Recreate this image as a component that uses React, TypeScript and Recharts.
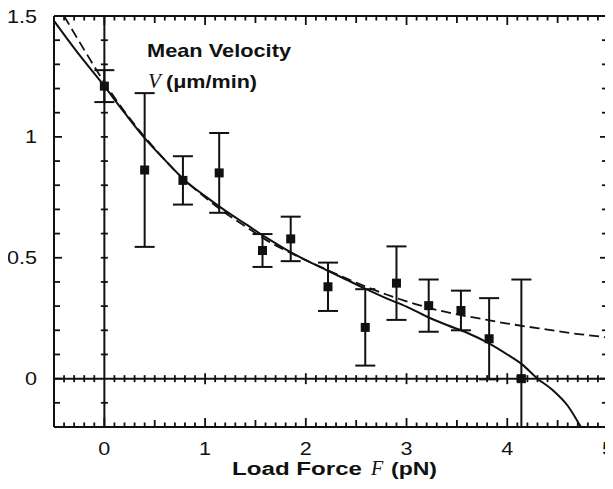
import React from "react";
import {
  ComposedChart,
  XAxis,
  YAxis,
  Line,
  Scatter,
  ErrorBar,
  ReferenceLine,
} from "recharts";

// ---- measured data ----
const forces = [0, 0.4, 0.78, 1.14, 1.57, 1.85, 2.22, 2.59, 2.9, 3.22, 3.54, 3.82, 4.14];
const velocities = [1.21, 0.863, 0.82, 0.851, 0.53, 0.578, 0.38, 0.212, 0.395, 0.302, 0.282, 0.165, 0.0];
const velocityErrors = [0.066, 0.318, 0.1, 0.165, 0.068, 0.092, 0.1, 0.158, 0.152, 0.108, 0.082, 0.168, 0.41];

const solidX = [-0.5, -0.25, 0, 0.2, 0.4, 0.6, 0.8, 1.0, 1.2, 1.4, 1.6, 1.8, 2.0, 2.2, 2.4, 2.6, 2.8, 3.0, 3.2, 3.4, 3.6, 3.8, 4.0, 4.15, 4.3, 4.45, 4.6, 4.73];
const solidY = [1.48, 1.34, 1.21, 1.1, 0.995, 0.905, 0.82, 0.755, 0.695, 0.64, 0.585, 0.535, 0.49, 0.45, 0.41, 0.37, 0.332, 0.298, 0.257, 0.222, 0.19, 0.15, 0.1, 0.058, 0.0, -0.047, -0.112, -0.2];

const dashedX = [-0.4, -0.2, 0, 0.2, 0.4, 0.6, 0.8, 1.0, 1.2, 1.4, 1.6, 1.8, 2.0, 2.2, 2.4, 2.6, 2.8, 3.0, 3.2, 3.4, 3.6, 3.8, 4.0, 4.2, 4.4, 4.6, 4.8, 5.0];
const dashedY = [1.5, 1.36, 1.225, 1.105, 1.0, 0.905, 0.82, 0.75, 0.685, 0.63, 0.575, 0.53, 0.49, 0.452, 0.415, 0.38, 0.348, 0.32, 0.295, 0.275, 0.258, 0.243, 0.228, 0.215, 0.203, 0.19, 0.18, 0.17];

const xTickLabels = [0, 1, 2, 3, 4, 5];
const yTickLabels = [0, 0.5, 1, 1.5];
const xDomain: [number, number] = [-0.5, 5];
const yDomain: [number, number] = [-0.2, 1.5];

// minor tick positions (every 0.1)
const xMinor = Array.from({ length: 54 }, (_, i) => +(-0.4 + i * 0.1).toFixed(1));
const yMinor = Array.from({ length: 16 }, (_, i) => +(-0.1 + i * 0.1).toFixed(1));

// error bars are clipped at the plot frame (lower bound never below the axis minimum)
const points = forces.map((x, i) => ({
  x,
  y: velocities[i],
  err: [Math.min(velocityErrors[i], velocities[i] - yDomain[0]), velocityErrors[i]],
}));
const solidData = solidX.map((x, i) => ({ x, y: solidY[i] }));
const dashedData = dashedX.map((x, i) => ({ x, y: dashedY[i] }));

const bottomTicks = xMinor.map((x) => ({ x, y: yDomain[0] }));
const topTicks = xMinor.map((x) => ({ x, y: yDomain[1] }));
const leftTicks = yMinor.map((y) => ({ x: xDomain[0], y }));
const rightTicks = yMinor.map((y) => ({ x: xDomain[1], y }));
const zeroRowTicks = xMinor.filter((x) => x !== 0).map((x) => ({ x, y: 0 }));
const zeroColTicks = yMinor.filter((y) => y !== 0).map((y) => ({ x: 0, y }));

const INK = "#111";
const SANS = "'Liberation Sans', Arial, Helvetica, sans-serif";
const SERIF = "'Liberation Serif', 'Times New Roman', serif";

const isInt = (v: number) => Math.abs(v - Math.round(v)) < 1e-6;
const isHalf = (v: number) => Math.abs(v * 2 - Math.round(v * 2)) < 1e-6;
const xLen = (v: number) => (isInt(v) ? 9 : isHalf(v) ? 7 : 4.5);
const yLen = (v: number) => (isHalf(v) ? 8 : 6);

// approximate stretched width of a numeric label
const labelWidth = (s: string) =>
  s.split("").reduce((w, c) => w + (c === "." ? 5 : 10), 0) * 1.2;

const XTick = (p: any) => {
  const s = String(p.payload.value);
  return (
    <text
      x={p.x}
      y={p.y + 28}
      textAnchor="middle"
      fontFamily={SANS}
      fontSize={18}
      fill={INK}
      textLength={labelWidth(s)}
      lengthAdjust="spacingAndGlyphs"
    >
      {s}
    </text>
  );
};

const YTick = (p: any) => {
  const s = String(p.payload.value);
  const w = labelWidth(s);
  return (
    <text
      x={p.x - 17 - w}
      y={p.y + 6.5}
      textAnchor="start"
      fontFamily={SANS}
      fontSize={18}
      fill={INK}
      textLength={w}
      lengthAdjust="spacingAndGlyphs"
    >
      {s}
    </text>
  );
};

const markerShape = (p: any) => (
  <rect x={p.cx - 4.5} y={p.cy - 4.5} width={9} height={9} fill={INK} />
);

export default function App() {
  return (
    <div style={{ position: "relative", width: 605, height: 481, background: "#fff" }}>
      <ComposedChart
        width={605}
        height={481}
        margin={{ top: 8, right: 5, left: 0, bottom: 0 }}
        data={points}
      >
        <XAxis
          type="number"
          dataKey="x"
          domain={xDomain}
          ticks={xTickLabels}
          interval={0}
          axisLine={{ stroke: INK, strokeWidth: 2 }}
          tickLine={false}
          tickSize={0}
          tickMargin={0}
          height={62}
          tick={<XTick />}
        />
        <YAxis
          type="number"
          dataKey="y"
          domain={yDomain}
          ticks={yTickLabels}
          interval={0}
          axisLine={{ stroke: INK, strokeWidth: 2 }}
          tickLine={false}
          tickSize={0}
          tickMargin={0}
          width={46}
          tick={<YTick />}
        />
        {/* plot frame: top and right edges */}
        <ReferenceLine x={xDomain[1]} stroke={INK} strokeWidth={2} ifOverflow="visible" />
        <ReferenceLine y={yDomain[1]} stroke={INK} strokeWidth={2} ifOverflow="visible" />
        {/* zero axes */}
        <ReferenceLine y={0} stroke={INK} strokeWidth={2} />
        <ReferenceLine x={0} stroke={INK} strokeWidth={2} />

        <Scatter
          data={bottomTicks}
          dataKey="y"
          isAnimationActive={false}
          shape={(p: any) => (
            <line x1={p.cx} x2={p.cx} y1={p.cy} y2={p.cy - xLen(p.payload.x)} stroke={INK} strokeWidth={1.8} />
          )}
        />
        <Scatter
          data={topTicks}
          dataKey="y"
          isAnimationActive={false}
          shape={(p: any) => (
            <line x1={p.cx} x2={p.cx} y1={p.cy} y2={p.cy + xLen(p.payload.x)} stroke={INK} strokeWidth={1.8} />
          )}
        />
        <Scatter
          data={leftTicks}
          dataKey="y"
          isAnimationActive={false}
          shape={(p: any) => (
            <line x1={p.cx} x2={p.cx + yLen(p.payload.y)} y1={p.cy} y2={p.cy} stroke={INK} strokeWidth={1.8} />
          )}
        />
        <Scatter
          data={rightTicks}
          dataKey="y"
          isAnimationActive={false}
          shape={(p: any) => (
            <line x1={p.cx} x2={p.cx - yLen(p.payload.y)} y1={p.cy} y2={p.cy} stroke={INK} strokeWidth={1.8} />
          )}
        />
        <Scatter
          data={zeroRowTicks}
          dataKey="y"
          isAnimationActive={false}
          shape={(p: any) => {
            const h = isInt(p.payload.x) ? 5.5 : 3.5;
            return <line x1={p.cx} x2={p.cx} y1={p.cy - h} y2={p.cy + h} stroke={INK} strokeWidth={1.8} />;
          }}
        />
        <Scatter
          data={zeroColTicks}
          dataKey="y"
          isAnimationActive={false}
          shape={(p: any) => (
            <line x1={p.cx - 3.5} x2={p.cx + 3.5} y1={p.cy} y2={p.cy} stroke={INK} strokeWidth={1.8} />
          )}
        />

        <Line
          data={dashedData}
          dataKey="y"
          type="monotone"
          dot={false}
          stroke={INK}
          strokeWidth={1.8}
          strokeDasharray="10 5"
          isAnimationActive={false}
        />
        <Line
          data={solidData}
          dataKey="y"
          type="monotone"
          dot={false}
          stroke={INK}
          strokeWidth={2}
          isAnimationActive={false}
        />
        <Scatter data={points} dataKey="y" isAnimationActive={false} shape={markerShape}>
          <ErrorBar
            dataKey="err"
            direction="y"
            width={10}
            stroke={INK}
            strokeWidth={2}
            isAnimationActive={false}
          />
        </Scatter>
      </ComposedChart>

      <svg
        width={605}
        height={481}
        style={{ position: "absolute", left: 0, top: 0, pointerEvents: "none" }}
      >
        <text x={139} y={49} fontFamily={SANS} fontWeight="bold" fontSize={19} fill={INK} textLength={144} lengthAdjust="spacingAndGlyphs">
          Mean Velocity
        </text>
        <text x={140} y={80} fontFamily={SERIF} fontStyle="italic" fontSize={21} fill={INK}>
          V
        </text>
        <text x={158} y={80} fontFamily={SANS} fontWeight="bold" fontSize={19} fill={INK} textLength={91} lengthAdjust="spacingAndGlyphs">
          (μm/min)
        </text>

        <text x={224} y={467} fontFamily={SANS} fontWeight="bold" fontSize={18} fill={INK} textLength={130} lengthAdjust="spacingAndGlyphs">
          Load Force
        </text>
        <text x={363} y={467} fontFamily={SERIF} fontStyle="italic" fontSize={20} fill={INK}>
          F
        </text>
        <text x={383} y={467} fontFamily={SANS} fontWeight="bold" fontSize={18} fill={INK} textLength={46} lengthAdjust="spacingAndGlyphs">
          (pN)
        </text>
      </svg>
    </div>
  );
}
